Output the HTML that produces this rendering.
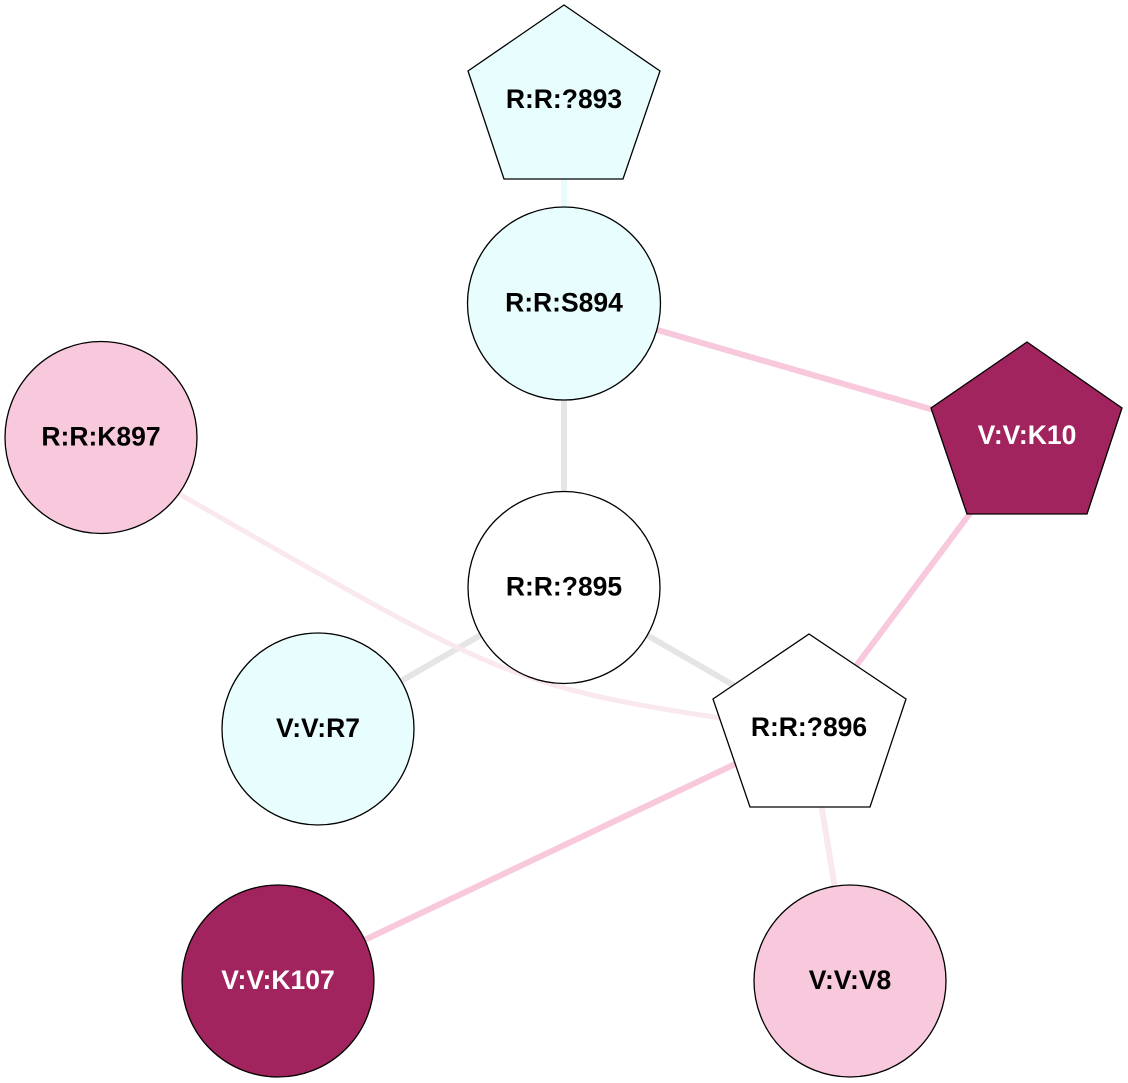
<!DOCTYPE html>
<html>
<head>
<meta charset="utf-8">
<style>
  html, body { margin:0; padding:0; background:#ffffff; }
  body { width:1128px; height:1083px; overflow:hidden; }
  svg { display:block; }
  text { font-family: "Liberation Sans", Arial, sans-serif; font-weight:bold; font-size:26.5px; text-anchor:middle; }
</style>
</head>
<body>
<svg width="1128" height="1083" viewBox="0 0 1128 1083" xmlns="http://www.w3.org/2000/svg">
  <!-- edges -->
  <g fill="none" stroke-linecap="butt">
    <line x1="564" y1="100" x2="564" y2="303" stroke="#e6fcfc" stroke-width="6"/>
    <line x1="564" y1="303" x2="1027" y2="437" stroke="#f8c8dc" stroke-width="6"/>
    <line x1="564" y1="303" x2="564" y2="587" stroke="#e5e5e5" stroke-width="6"/>
    <line x1="564" y1="587" x2="318" y2="729" stroke="#e5e5e5" stroke-width="6"/>
    <line x1="564" y1="587" x2="809" y2="729" stroke="#e5e5e5" stroke-width="6"/>
    <line x1="1027" y1="437" x2="809" y2="729" stroke="#f8c8dc" stroke-width="6"/>
    <line x1="809" y1="729" x2="278" y2="981" stroke="#f8c8dc" stroke-width="6"/>
    <line x1="809" y1="729" x2="850" y2="981" stroke="#fae8ef" stroke-width="6"/>
    <path d="M101,437 L181,495 C484,668 506,686 714,717 L809,729" stroke="#fae8ef" stroke-width="5"/>
  </g>

  <!-- nodes -->
  <g stroke="#000" stroke-width="1.3">
    <polygon points="564,5 660,71 623,179 504,179 468,71" fill="#e8fefe"/>
    <circle cx="564" cy="303.5" r="96.5" fill="#e8fefe"/>
    <circle cx="101" cy="437.5" r="96" fill="#f8c8dc"/>
    <polygon points="1027,342 1122,408 1087,514 967,514 931,408" fill="#a2245f"/>
    <circle cx="564" cy="587.5" r="96" fill="#ffffff"/>
    <circle cx="318" cy="729" r="96" fill="#e8fefe"/>
    <polygon points="809,634 906,699 870,807 750,807 713,699" fill="#ffffff"/>
    <circle cx="278" cy="981" r="96" fill="#a2245f"/>
    <circle cx="850" cy="981" r="96" fill="#f8c8dc"/>
  </g>

  <!-- labels -->
  <text x="564" y="108" fill="#000">R:R:?893</text>
  <text x="564" y="311.5" fill="#000">R:R:S894</text>
  <text x="101" y="445.5" fill="#000">R:R:K897</text>
  <text x="1027" y="444" fill="#ffffff">V:V:K10</text>
  <text x="564" y="595.5" fill="#000">R:R:?895</text>
  <text x="318" y="737" fill="#000">V:V:R7</text>
  <text x="809" y="736" fill="#000">R:R:?896</text>
  <text x="278" y="989" fill="#ffffff">V:V:K107</text>
  <text x="850" y="989" fill="#000">V:V:V8</text>
</svg>
</body>
</html>
